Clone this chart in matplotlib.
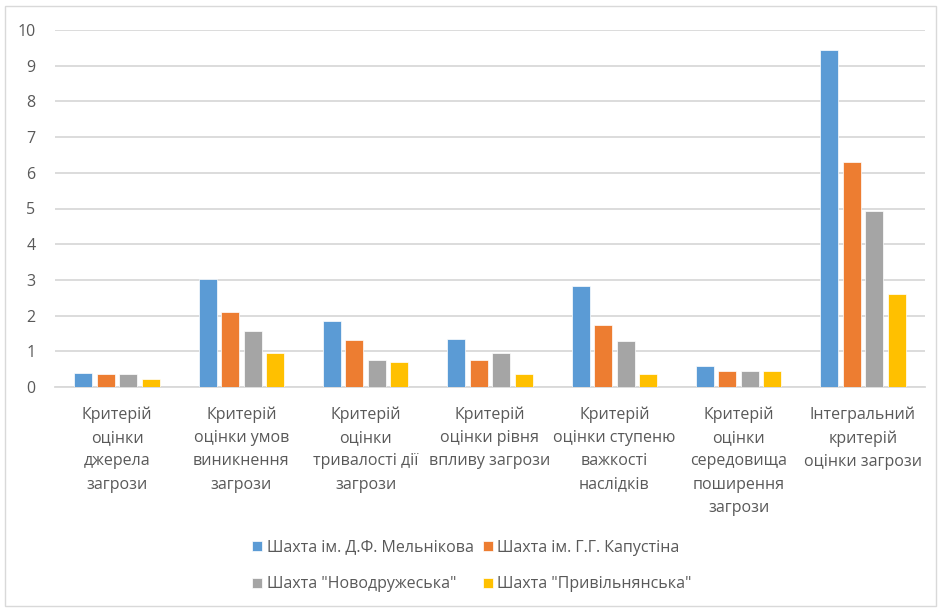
import matplotlib
matplotlib.use("Agg")
import matplotlib.pyplot as plt
import numpy as np
from matplotlib.patches import Rectangle

categories = [
    "Критерій\nоцінки\nджерела\nзагрози",
    "Критерій\nоцінки умов\nвиникнення\nзагрози",
    "Критерій\nоцінки\nтривалості дії\nзагрози",
    "Критерій\nоцінки рівня\nвпливу загрози",
    "Критерій\nоцінки ступеню\nважкості\nнаслідків",
    "Критерій\nоцінки\nсередовища\nпоширення\nзагрози",
    "Інтегральний\nкритерій\nоцінки загрози",
]
series_names = [
    "Шахта ім. Д.Ф. Мельнікова",
    "Шахта ім. Г.Г. Капустіна",
    "Шахта \"Новодружеська\"",
    "Шахта \"Привільнянська\"",
]
melnikova = [0.39, 3.03, 1.85, 1.34, 2.84, 0.59, 9.45]
kapustina = [0.36, 2.11, 1.32, 0.77, 1.74, 0.45, 6.31]
novodruzheska = [0.36, 1.57, 0.77, 0.94, 1.29, 0.45, 4.92]
pryvilnianska = [0.22, 0.94, 0.71, 0.37, 0.37, 0.45, 2.60]
yticks = list(range(0, 11))

colors = ["#5B9BD5", "#ED7D31", "#A5A5A5", "#FFC000"]
text_color = "#595959"

plt.rcParams['font.family'] = ['Open Sans', 'DejaVu Sans']

fig = plt.figure(figsize=(9.42, 6.09), dpi=100)
ax = fig.add_axes([55/942, 1-387/609, 870/942, 357/609])

x = np.arange(len(categories))
pitch = 0.181
width = 0.145
all_series = [melnikova, kapustina, novodruzheska, pryvilnianska]
handles = []
for i, (vals, name, c) in enumerate(zip(all_series, series_names, colors)):
    h = ax.bar(x + (i - 1.5) * pitch, vals, width, color=c, label=name,
               edgecolor="white", linewidth=0.5, zorder=3)
    handles.append(h)

ax.set_xlim(-0.5, len(categories) - 0.5)
ax.set_ylim(0, 10)
ax.set_yticks(yticks)
ax.set_yticklabels([str(t) for t in yticks], color=text_color, fontsize=11.5)
ax.set_xticks(x)
ax.set_xticklabels(categories, color=text_color, fontsize=11.5, linespacing=1.6)
ax.tick_params(axis='both', length=0)
ax.tick_params(axis='y', pad=14)
ax.tick_params(axis='x', pad=14)
ax.grid(axis='y', color="#D9D9D9", linewidth=1.3, zorder=0)
for s in ["top", "right", "left"]:
    ax.spines[s].set_visible(False)
ax.spines["bottom"].set_color("#D9D9D9")
ax.spines["bottom"].set_linewidth(1.3)

order = [0, 2, 1, 3]
leg = fig.legend([handles[k] for k in order], [series_names[k] for k in order],
                 loc="center", bbox_to_anchor=(472/942, 1-566/609), ncol=2,
                 frameon=False, fontsize=11.5, handlelength=0.6, handleheight=0.6,
                 handletextpad=0.3, columnspacing=0.6, labelspacing=1.3)
for t in leg.get_texts():
    t.set_color(text_color)

fig.patches.append(Rectangle((5/942, 3/609), 931/942, 600/609, transform=fig.transFigure,
                             fill=False, edgecolor="#D9D9D9", linewidth=1.0))

fig.savefig("out.png", dpi=100)
